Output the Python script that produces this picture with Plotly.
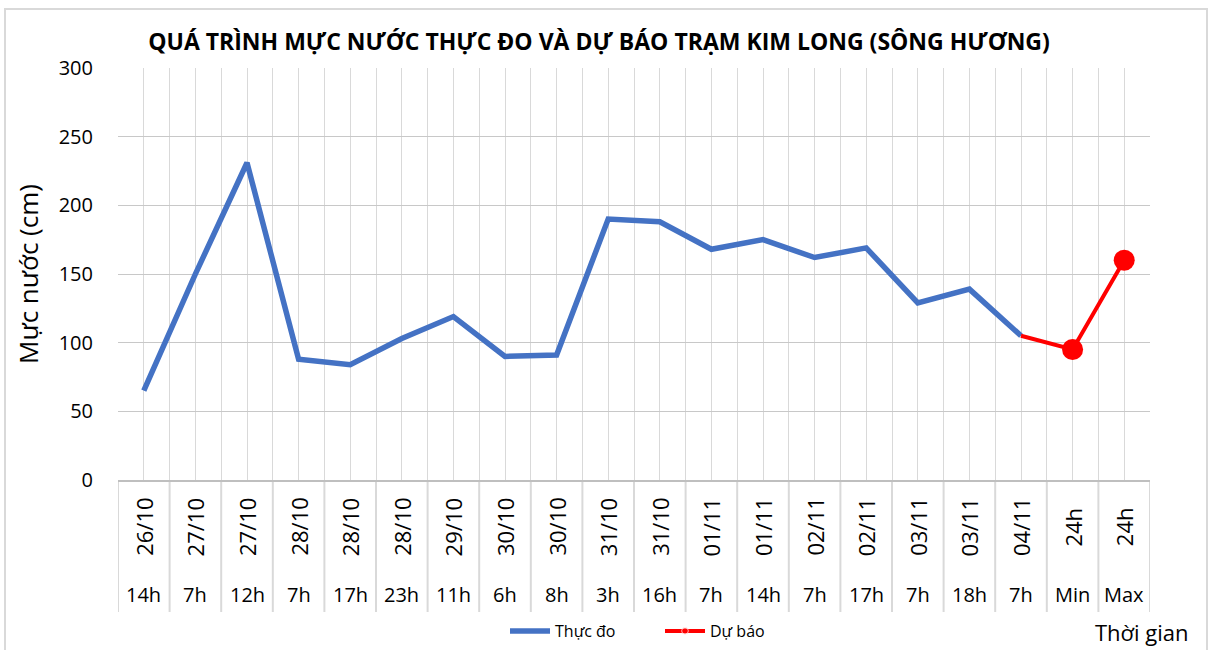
import plotly.graph_objects as go

dates = ["26/10", "27/10", "27/10", "28/10", "28/10", "28/10", "29/10", "30/10", "30/10",
         "31/10", "31/10", "01/11", "01/11", "02/11", "02/11", "03/11", "03/11", "04/11", "24h", "24h"]
hours = ["14h", "7h", "12h", "7h", "17h", "23h", "11h", "6h", "8h",
         "3h", "16h", "7h", "14h", "7h", "17h", "7h", "18h", "7h", "Min", "Max"]
observed = [65, 150, 231, 88, 84, 103, 119, 90, 91, 190, 188, 168, 175, 162, 169, 129, 139, 105]
forecast_idx = [17, 18, 19]
forecast = [105, 95, 160]

n = len(dates)
xs = list(range(n))
FONT = "Open Sans"

PX_L, PX_R, PX_T, PX_B = 118, 1150, 68, 480
W, H = 1217, 650
pw, ph = PX_R - PX_L, PX_B - PX_T


def xp(px):
    return (px - PX_L) / pw


def yp(py):
    return (PX_B - py) / ph


fig = go.Figure()
fig.add_trace(go.Scatter(
    x=xs[:len(observed)], y=observed, mode="lines", name="Thực đo",
    line=dict(color="#4472C4", width=5.5), cliponaxis=False))
fig.add_trace(go.Scatter(
    x=forecast_idx, y=forecast, mode="lines+markers", name="Dự báo",
    line=dict(color="#FF0000", width=4),
    marker=dict(color="#FF0000", size=[0, 10, 10]), cliponaxis=False))
fig.add_trace(go.Scatter(
    x=forecast_idx[1:], y=forecast[1:], mode="markers", showlegend=False,
    marker=dict(color="#FF0000", size=21), cliponaxis=False, hoverinfo="skip"))

shapes = []
# separators in the category label area
for i in range(n + 1):
    shapes.append(dict(type="line", xref="x", yref="paper", x0=i - 0.5, x1=i - 0.5,
                       y0=0, y1=yp(612), line=dict(color="#d9d9d9", width=2), layer="below"))
# outer chart border
shapes.append(dict(type="rect", xref="paper", yref="paper", x0=xp(5), x1=xp(1207),
                   y0=yp(700), y1=yp(9), line=dict(color="#d9d9d9", width=2)))

annotations = []
for i in range(n):
    annotations.append(dict(x=i, y=yp(527), xref="x", yref="paper", text=dates[i],
                            textangle=-90, showarrow=False, xanchor="center", yanchor="middle",
                            font=dict(family=FONT, size=22, color="#000")))
    annotations.append(dict(x=i, y=yp(594), xref="x", yref="paper", text=hours[i],
                            showarrow=False, xanchor="center", yanchor="middle",
                            font=dict(family=FONT, size=20, color="#000")))
annotations.append(dict(x=xp(1142), y=yp(632), xref="paper", yref="paper", text="Thời gian",
                        showarrow=False, xanchor="center", yanchor="middle",
                        font=dict(family=FONT, size=22, color="#000")))

fig.update_layout(
    width=W, height=H,
    margin=dict(l=PX_L, r=W - PX_R, t=PX_T, b=H - PX_B),
    paper_bgcolor="white", plot_bgcolor="white",
    title=dict(text="<b>QUÁ TRÌNH MỰC NƯỚC THỰC ĐO VÀ DỰ BÁO TRẠM KIM LONG (SÔNG HƯƠNG)</b>",
               x=xp(599) * pw / W + PX_L / W, xanchor="center", y=1 - 42 / H, yanchor="middle",
               font=dict(family=FONT, size=23, color="#000")),
    xaxis=dict(range=[-0.5, n - 0.5], tick0=-0.5, dtick=0.5, showticklabels=False,
               showgrid=True, gridcolor="#d9d9d9", gridwidth=1, zeroline=False,
               showline=True, linecolor="#bfbfbf", linewidth=2, mirror=False, ticks=""),
    yaxis=dict(range=[0, 300], dtick=50, showgrid=True, gridcolor="#c8c8c8", gridwidth=1,
               zeroline=False, showline=False, ticks="outside", ticklen=20,
               tickcolor="rgba(0,0,0,0)",
               tickfont=dict(family=FONT, size=20, color="#000"),
               title=dict(text="Mực nước (cm)", font=dict(family=FONT, size=26, color="#000"),
                          standoff=12)),
    legend=dict(orientation="h", x=660 / W, xanchor="center", xref="container",
                y=1 - 631 / H, yanchor="middle", yref="container",
                font=dict(family=FONT, size=16, color="#000"), bgcolor="rgba(0,0,0,0)",
                itemwidth=40, entrywidth=100),
    shapes=shapes, annotations=annotations,
    showlegend=True,
)

fig.write_html("out.html", config={"displayModeBar": False},
               post_script="document.body.style.margin='0';")
